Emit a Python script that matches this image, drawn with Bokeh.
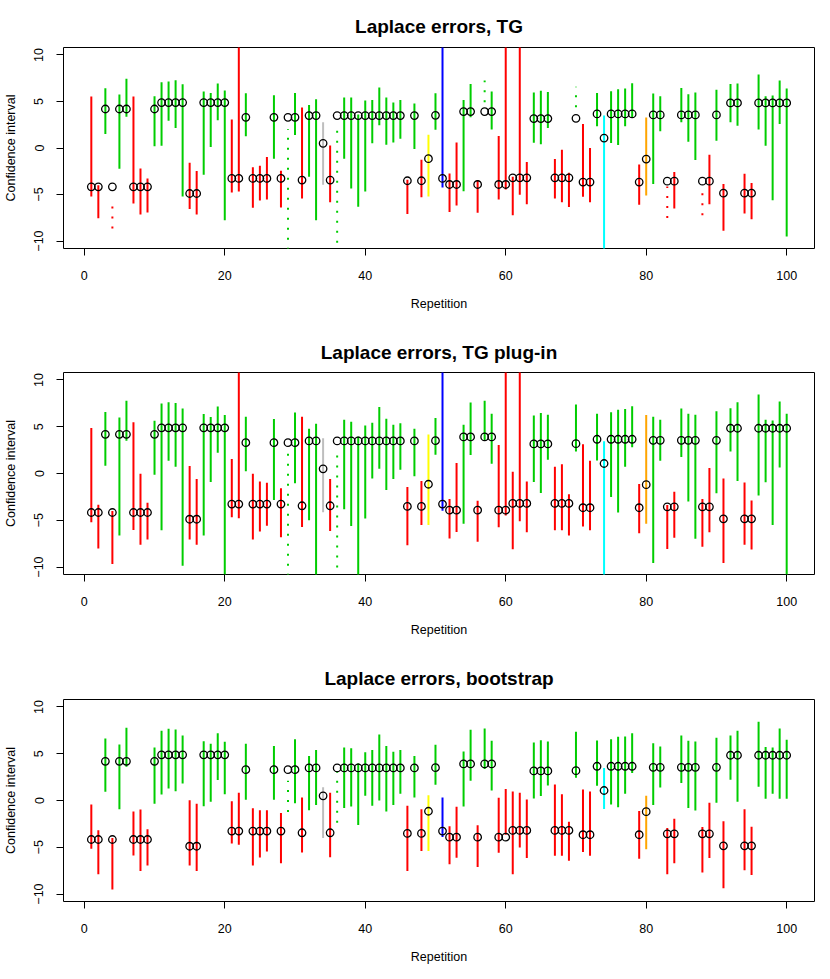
from bokeh.plotting import figure
from bokeh.models import ColumnDataSource, Range1d, FixedTicker
from bokeh.layouts import column
from bokeh.embed import file_html
from bokeh.resources import INLINE

repetition = list(range(1, 101))

estimate = [
    -4.17, -4.17, 4.19, -4.17, 4.19, 4.19, -4.17, -4.17, -4.17, 4.19,
    4.88, 4.88, 4.88, 4.88, -4.89, -4.89, 4.88, 4.88, 4.88, 4.88,
    -3.27, -3.27, 3.30, -3.27, -3.27, -3.27, 3.30, -3.27, 3.30, 3.30,
    -3.45, 3.48, 3.48, 0.50, -3.45, 3.48, 3.48, 3.48, 3.48, 3.48,
    3.48, 3.48, 3.48, 3.48, 3.48, -3.52, 3.48, -3.52, -1.15, 3.51,
    -3.27, -3.92, -3.92, 3.91, 3.91, -3.92, 3.91, 3.91, -3.92, -3.92,
    -3.20, -3.20, -3.20, 3.16, 3.16, 3.16, -3.20, -3.20, -3.20, 3.19,
    -3.66, -3.66, 3.66, 1.07, 3.66, 3.66, 3.66, 3.66, -3.66, -1.19,
    3.55, 3.55, -3.56, -3.56, 3.55, 3.55, 3.55, -3.56, -3.56, 3.55,
    -4.85, 4.84, 4.84, -4.85, -4.85, 4.84, 4.84, 4.84, 4.84, 4.84,
]

# colour class per repetition: R red, G green, B blue, C cyan, O orange, Y yellow, K gray
color_class = (
    "RRGRGGRRRG"
    "GGGGRRGGGG"
    "RRGRRRGRGG"
    "RGGKRGGGGG"
    "GGGGGRGRYG"
    "BRRGGRGGRR"
    "RRRGGGRRRG"
    "RRGCGGGGRO"
    "GGRRGGGRRG"
    "RGGRRGGGGG"
)
palette = {"R": "#FF0000", "G": "#00CD00", "B": "#0000FF", "C": "#00FFFF",
           "O": "#FFA500", "Y": "#FFFF00", "K": "#BEBEBE"}

tg_lower = [
    -5.21, -7.55, 1.50, -8.66, -2.24, 3.37, -5.96, -7.15, -6.93, 0.18,
    0.25, 2.94, 2.15, -5.21, -6.55, -7.15, -2.88, 0.10, 2.98, -7.76,
    -4.78, -4.67, 1.25, -6.43, -5.64, -5.53, -1.15, -6.40, -12.0, 1.40,
    -5.43, -3.09, -7.76, -3.95, -5.82, -10.17, -1.15, -4.35, -6.30, -4.67,
    0.50, 2.44, 0.35, 0.60, 1.00, -7.08, -0.11, -5.28, -5.21, 1.97,
    -4.25, -6.87, -6.19, -4.64, 3.30, -6.97, 4.92, 2.00, -5.53, -4.46,
    -7.22, -5.03, -6.04, 0.57, 0.39, 2.15, -5.43, -5.82, -6.33, 4.38,
    -5.25, -5.82, 2.33, -12.0, 0.53, 0.32, 2.33, 3.30, -6.11, -5.11,
    -3.88, 1.79, -7.51, -6.50, 2.76, 0.68, -1.30, -7.22, -6.04, 0.79,
    -8.88, 2.76, 2.40, -7.05, -7.66, 2.00, 0.25, -5.61, 2.58, -9.50,
]
tg_upper = [
    5.53, -4.00, 6.43, -5.43, 5.74, 7.43, 5.53, -2.20, -3.27, 5.56,
    7.07, 7.14, 7.29, 6.85, -1.58, -2.48, 6.06, 5.92, 6.93, 6.17,
    3.05, 12.0, 5.88, -2.08, -1.90, -0.97, 5.67, -2.44, 2.04, 5.92,
    4.34, 4.63, 5.24, 2.76, 0.28, 2.69, 5.42, 5.42, 3.60, 5.10,
    5.17, 6.50, 5.42, 4.88, 5.17, -3.40, 4.77, -1.27, 1.43, 5.88,
    12.0, -2.74, 0.60, 5.17, 6.89, -3.45, 7.25, 6.06, 1.29, 12.0,
    -3.10, 12.0, -1.51, 5.96, 6.14, 6.03, -1.19, -0.18, -2.66, 6.57,
    2.58, 0.00, 5.92, 3.48, 6.10, 6.32, 6.39, 6.96, -1.76, 3.27,
    5.85, 5.56, -4.15, -2.59, 6.46, 5.78, 5.96, -4.03, -0.72, 6.25,
    -3.88, 6.89, 6.93, -2.77, -3.77, 7.90, 5.56, 5.64, 7.25, 6.39,
]
tg_dotted = [4, 29, 36, 57, 70, 83, 88]

plugin_lower = [
    -5.22, -8.02, 0.83, -9.68, -6.62, 3.49, -6.04, -7.63, -7.05, -0.14,
    -6.08, 1.37, 0.72, -9.86, -7.05, -7.63, -6.62, -0.90, 2.23, -12.0,
    -4.68, -4.78, 0.25, -7.05, -6.19, -5.58, -2.84, -6.83, -12.0, -1.04,
    -5.72, -5.00, -12.0, -4.14, -6.15, -10.04, -3.81, -5.61, -12.0, -4.82,
    -0.54, 0.50, -1.76, -0.58, 0.40, -7.66, -0.29, -5.50, -5.50, 2.01,
    -3.99, -6.94, -6.26, -5.36, 1.98, -7.30, 3.56, 1.04, -5.76, -4.50,
    -8.09, -5.11, -6.29, -0.90, -2.09, 1.47, -6.08, -6.08, -6.62, 2.34,
    -5.68, -6.08, 1.40, -12.0, -2.52, -4.17, 0.72, 2.80, -6.40, -5.36,
    -9.57, 1.37, -8.06, -6.87, 1.76, -2.99, -6.98, -7.84, -6.29, -2.12,
    -9.57, 2.34, -0.79, -7.63, -8.13, -2.34, -0.94, -5.50, 0.65, -12.0,
]
plugin_upper = [
    4.86, -3.35, 6.58, -4.00, 6.00, 7.77, 5.47, -0.04, -3.13, 5.65,
    7.48, 7.63, 7.55, 6.94, 0.79, -0.58, 6.37, 6.04, 7.16, 6.26,
    1.55, 12.0, 6.08, -0.04, -0.86, -1.00, 5.83, -1.58, 2.12, 6.51,
    6.08, 4.78, 5.32, 3.78, -0.58, 2.73, 5.76, 5.54, 3.96, 5.14,
    5.43, 7.12, 5.86, 5.22, 5.36, -1.44, 4.78, -0.79, 4.17, 5.94,
    12.0, -2.73, 1.12, 5.22, 7.59, -2.91, 7.77, 6.40, 3.06, 12.0,
    0.18, 12.0, -0.86, 6.19, 6.47, 6.29, 0.72, 1.00, -2.23, 7.37,
    3.13, 1.37, 6.40, 3.45, 6.55, 6.83, 6.91, 7.19, -1.12, 6.26,
    6.08, 5.76, -3.38, -1.94, 6.94, 6.40, 6.29, -2.73, 0.58, 6.65,
    -0.54, 6.98, 7.63, -0.97, -2.88, 8.45, 5.76, 5.68, 7.70, 6.40,
]
plugin_dotted = [29, 36]

boot_lower = [
    -5.16, -7.89, 0.93, -9.53, -0.93, 3.62, -5.88, -7.53, -6.95, -0.36,
    0.65, 1.29, 1.00, 1.83, -6.95, -7.53, -0.61, -0.14, 2.19, 0.68,
    -4.59, -4.73, 0.07, -6.95, -6.09, -5.45, 0.07, -6.70, -1.22, -0.29,
    -5.56, -1.04, -0.47, -4.01, -6.06, -2.37, -0.79, -0.65, -2.62, 0.50,
    -0.57, 0.00, -1.18, -0.47, 0.72, -7.53, 0.32, -5.41, -5.41, 1.68,
    -3.91, -6.81, -6.13, -0.65, 2.11, -7.10, 3.37, 1.08, -5.59, -3.66,
    -7.89, -5.02, -6.16, 0.22, 0.47, 1.61, -5.91, -5.91, -6.45, 2.44,
    -5.52, -5.91, 1.58, -0.90, -0.43, -0.72, 0.72, 2.94, -6.24, -5.20,
    -0.47, 1.40, -7.89, -6.70, 1.86, -0.79, -1.08, -7.71, -6.16, -0.25,
    -9.39, 2.22, -0.14, -7.46, -7.96, 1.47, 0.18, 0.72, 0.18, 0.18,
]
boot_upper = [
    -0.43, -3.19, 6.63, -4.00, 5.99, 7.78, -1.18, -0.97, -3.08, 5.66,
    7.46, 7.67, 7.60, 6.95, 0.04, -0.36, 6.34, 6.06, 7.20, 6.27,
    -0.07, 0.82, 6.06, -0.82, -1.04, -1.04, 5.84, -1.33, 2.11, 6.56,
    0.32, 4.77, 5.41, 1.43, 0.82, 3.05, 5.66, 5.59, 3.98, 5.16,
    5.41, 7.06, 5.84, 5.20, 5.41, -0.57, 4.77, -0.93, 0.57, 5.95,
    0.32, -2.76, -0.68, 5.23, 7.56, -2.65, 7.71, 6.38, 0.29, 1.22,
    0.97, 0.82, 0.11, 6.20, 6.45, 6.31, 1.72, 0.68, -2.26, 7.35,
    1.18, 0.97, 6.42, 3.48, 6.56, 6.81, 6.85, 7.20, -1.11, 0.50,
    6.13, 5.77, -2.94, -1.94, 6.95, 6.38, 6.31, -2.83, -0.25, 6.70,
    -2.22, 6.95, 7.46, -0.93, -2.80, 8.42, 5.73, 5.66, 7.71, 6.49,
]
boot_dotted = [29, 36]

titles = ["Laplace errors, TG", "Laplace errors, TG plug-in", "Laplace errors, bootstrap"]
x_ticks = [0, 20, 40, 60, 80, 100]
y_ticks = [-10, -5, 0, 5, 10]

FONT = "Liberation Sans"


def make_panel(title, lower, upper, dotted, fig_h, top, plot_h, title_standoff):
    p = figure(width=822, height=fig_h, output_backend="svg", toolbar_location=None,
               x_range=Range1d(-2.96, 103.96), y_range=Range1d(-10.8, 10.8),
               min_border_left=63, min_border_right=8, min_border_top=top,
               min_border_bottom=fig_h - top - plot_h, title=title)
    p.title.text_font = FONT
    p.title.text_font_size = "19px"
    p.title.text_font_style = "bold"
    p.title.text_color = "black"
    p.title.align = "center"
    p.title.standoff = title_standoff
    p.grid.visible = False
    p.outline_line_color = "black"
    p.outline_line_width = 1
    p.background_fill_color = "white"
    p.border_fill_color = "white"

    colors = [palette[c] for c in color_class]
    solid = dict(x=[], lo=[], hi=[], c=[])
    dots = dict(x=[], lo=[], hi=[], c=[])
    for i, r in enumerate(repetition):
        d = dots if r in dotted else solid
        d["x"].append(r)
        d["lo"].append(lower[i])
        d["hi"].append(upper[i])
        d["c"].append(colors[i])
    p.segment(x0="x", y0="lo", x1="x", y1="hi", line_color="c", line_width=2,
              source=ColumnDataSource(solid))
    p.segment(x0="x", y0="lo", x1="x", y1="hi", line_color="c", line_width=2,
              line_dash="2 8", source=ColumnDataSource(dots))
    p.scatter(repetition, estimate, marker="circle", size=7.5, fill_color=None,
              line_color="black", line_width=1.3)

    p.xaxis.ticker = FixedTicker(ticks=x_ticks)
    p.yaxis.ticker = FixedTicker(ticks=y_ticks)
    p.xaxis.axis_label = "Repetition"
    p.yaxis.axis_label = "Confidence interval"
    for ax in (p.xaxis, p.yaxis):
        ax.axis_line_color = None
        ax.major_tick_out = 7
        ax.major_tick_in = 0
        ax.minor_tick_line_color = None
        ax.major_tick_line_color = "black"
        ax.major_label_text_font = FONT
        ax.major_label_text_font_size = "12.5px"
        ax.major_label_text_color = "black"
        ax.axis_label_text_font = FONT
        ax.axis_label_text_font_size = "12.5px"
        ax.axis_label_text_font_style = "normal"
        ax.axis_label_text_color = "black"
    p.xaxis.major_label_standoff = 15
    p.xaxis.axis_label_standoff = 14
    p.yaxis.major_label_orientation = "vertical"
    p.yaxis.major_label_standoff = 13
    p.yaxis.axis_label_standoff = 14
    return p


panels = [
    make_panel(titles[0], tg_lower, tg_upper, tg_dotted, 323, 47, 201, 22),
    make_panel(titles[1], plugin_lower, plugin_upper, plugin_dotted, 324, 49, 202, 20),
    make_panel(titles[2], boot_lower, boot_upper, boot_dotted, 324, 52, 202, 21),
]
layout = column(*panels, spacing=0)

with open("out.html", "w") as f:
    f.write(file_html(layout, INLINE))
